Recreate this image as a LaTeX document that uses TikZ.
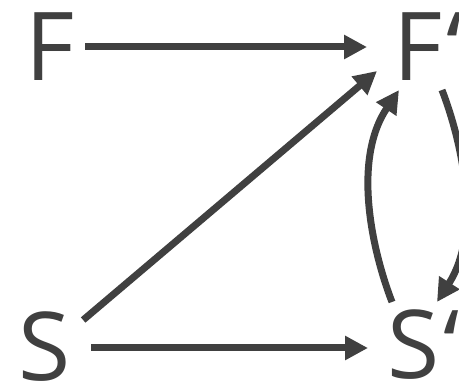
\documentclass[tikz,border=0pt]{standalone}
\usepackage{fontspec}
\setmainfont{Open Sans}
\usetikzlibrary{arrows.meta,calc}
\definecolor{ink}{HTML}{404040}
\begin{document}
\begin{tikzpicture}[x=1pt,y=-1pt,
  lbl/.style={inner sep=0pt, outer sep=0pt, text height=68pt, text depth=0pt,
    font=\fontsize{95}{95}\selectfont, text=ink, anchor=west},
  arr/.style={draw=ink, line width=7pt, -{Triangle[length=23pt,width=23pt]}}]
\useasboundingbox (0,0) rectangle (459,382);
\node[lbl] (F) at (25,47) {F};
\node[lbl] (Fp) at (393,47) {F\kern4pt‘};
\node[lbl] (S) at (18,347) {S};
\node[lbl] (Sp) at (387,345) {S\kern4pt‘};
\draw[arr, shorten <=11pt, shorten >=26pt] (F.east) -- (F.east -| Fp.west);
\draw[arr, shorten <=21pt, shorten >=19pt] (S.east) ++(0,1) -- ($(S.east -| Sp.west)+(0,1)$);
\draw[arr] ($(S.east)+(13,-27)$) -- ($(Fp.west)+(-16,24)$);
\draw[arr] ($(Sp.north west)+(5,-9)$) .. controls +(-20,-52) and +(-47,70) .. ($(Fp.south west)+(6,9)$);
\draw[arr] ($(Fp.south west)+(49,9)$) .. controls +(20,52) and +(45,-70) .. ($(Sp.north west)+(50,-9)$);
\end{tikzpicture}
\end{document}
